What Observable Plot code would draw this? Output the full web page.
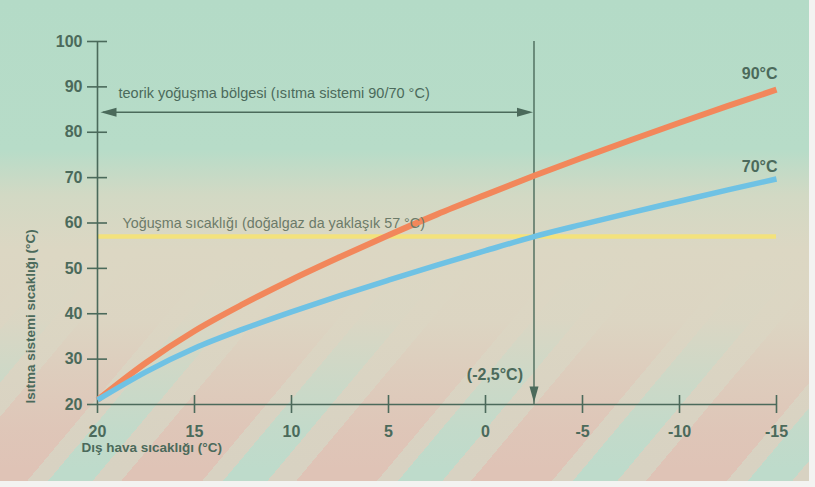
<!DOCTYPE html>
<html>
<head>
<meta charset="utf-8">
<script src="https://cdn.jsdelivr.net/npm/d3@7"></script>
<script src="https://cdn.jsdelivr.net/npm/@observablehq/plot@0.6"></script>
<style>
  html, body { margin: 0; padding: 0; background: #f3f3f1; }
  #chart { width: 815px; height: 487px; }
  svg { display: block; }
</style>
</head>
<body>
<div id="chart"></div>
<script>
// ---- data ----
const outdoorTemps = [20, 17.5, 15, 12.5, 10, 7.5, 5, 2.5, 0, -2.5, -5, -7.5, -10, -12.5, -15];
const flow90 = [21, 29.2, 36.2, 42.1, 47.5, 52.5, 57.3, 61.9, 66.2, 70.4, 74.4, 78.3, 82.1, 85.8, 89.4];
const flow70 = [21, 27.2, 32.4, 36.6, 40.4, 44.0, 47.4, 50.7, 53.9, 57.0, 59.7, 62.3, 64.8, 67.3, 69.7];
const xTicks = [20, 15, 10, 5, 0, -5, -10, -15];
const xTickLabels = ["20", "15", "10", "5", "0", "-5", "-10", "-15"];
const yTicks = [20, 30, 40, 50, 60, 70, 80, 90, 100];
const yTickLabels = ["20", "30", "40", "50", "60", "70", "80", "90", "100"];
const condensationTemp = 57;
const designTemp = -2.5;
const regionArrowLevel = 84.4;
const seriesLabels = ["90°C", "70°C"];
const xTitle = "Dış hava sıcaklığı (°C)";
const yTitle = "Isıtma sistemi sıcaklığı (°C)";
const regionLabel = "teorik yoğuşma bölgesi (ısıtma sistemi 90/70 °C)";
const condensationLabel = "Yoğuşma sıcaklığı (doğalgaz da yaklaşık 57 °C)";
const designLabel = "(-2,5°C)";

// ---- tables ----
const s90 = outdoorTemps.map((t, i) => ({t, v: flow90[i]}));
const s70 = outdoorTemps.map((t, i) => ({t, v: flow70[i]}));
const xTickData = xTicks.map((t, i) => ({t, label: xTickLabels[i]}));
const yTickData = yTicks.map((v, i) => ({v, label: yTickLabels[i]}));
const last = outdoorTemps.length - 1;

const ink = "#4b6a5b";
const fontFam = "'Liberation Sans', Arial, Helvetica, sans-serif";

// narrow filled arrowhead, tip at origin, body towards +y
const arrowHead = {
  draw(context) {
    context.moveTo(0, 0);
    context.lineTo(-4.5, 16);
    context.lineTo(4.5, 16);
    context.closePath();
  }
};

const chart = Plot.plot({
  width: 815,
  height: 487,
  marginLeft: 97,
  marginRight: 39,
  marginTop: 41,
  marginBottom: 83,
  x: {domain: [20, -15], axis: null},
  y: {domain: [20, 100], axis: null},
  style: {fontFamily: fontFam, background: "transparent", overflow: "visible"},
  marks: [
    // condensation line
    Plot.ruleY([condensationTemp], {x1: xTicks[0], x2: xTicks[xTicks.length - 1], stroke: "#f3e27c", strokeWidth: 4.5}),
    // axes lines
    Plot.ruleX([xTicks[0]], {y1: yTicks[0], y2: yTicks[yTicks.length - 1], stroke: ink, strokeWidth: 1.6}),
    Plot.ruleY([yTicks[0]], {x1: xTicks[0], x2: xTicks[xTicks.length - 1], stroke: ink, strokeWidth: 1.6}),
    // ticks crossing axes
    Plot.ruleY(yTicks.slice(1), {x1: xTicks[0], x2: xTicks[0], insetLeft: -10, insetRight: -10, stroke: ink, strokeWidth: 1.6}),
    Plot.ruleX(xTicks.slice(1), {y1: yTicks[0], y2: yTicks[0], insetTop: -9, insetBottom: -9, stroke: ink, strokeWidth: 1.6}),
    Plot.ruleX([xTicks[0]], {y1: yTicks[0], y2: yTicks[0], insetTop: 0, insetBottom: -9, stroke: ink, strokeWidth: 1.6}),
    Plot.ruleY([yTicks[0]], {x1: xTicks[0], x2: xTicks[0], insetLeft: -10, insetRight: 0, stroke: ink, strokeWidth: 1.6}),
    // tick labels
    Plot.text(yTickData, {x: () => xTicks[0], y: "v", text: "label", dx: -15, textAnchor: "end", fontSize: 16, fontWeight: "bold", fill: ink}),
    Plot.text(xTickData, {x: "t", y: () => yTicks[0], text: "label", dy: 27, fontSize: 16, fontWeight: "bold", fill: ink}),
    // axis titles
    Plot.text([xTitle], {frameAnchor: "bottom-left", dx: -16, dy: 47, textAnchor: "start", fontSize: 13.5, fontWeight: "bold", fill: ink}),
    Plot.text([yTitle], {frameAnchor: "bottom-left", dx: -63, dy: -1, rotate: -90, textAnchor: "start", fontSize: 13.5, fontWeight: "bold", fill: ink}),
    // design temperature vertical arrow
    Plot.ruleX([designTemp], {y1: yTicks[yTicks.length - 1], y2: yTicks[0], stroke: ink, strokeWidth: 1.4}),
    Plot.dot([designTemp], {x: d => d, y: () => yTicks[0], dy: -2, symbol: arrowHead, rotate: 180, fill: ink, stroke: "none"}),
    // region double arrow
    Plot.ruleY([regionArrowLevel], {x1: xTicks[0], x2: designTemp, insetLeft: 6, insetRight: 4, stroke: ink, strokeWidth: 1.6}),
    Plot.dot([regionArrowLevel], {x: () => xTicks[0], y: d => d, dx: 3, symbol: arrowHead, rotate: -90, fill: ink, stroke: "none"}),
    Plot.dot([regionArrowLevel], {x: () => designTemp, y: d => d, dx: -1, symbol: arrowHead, rotate: 90, fill: ink, stroke: "none"}),
    // curves
    Plot.line(s90, {x: "t", y: "v", stroke: "#f2875b", strokeWidth: 6, curve: "monotone-x", strokeLinecap: "butt"}),
    Plot.line(s70, {x: "t", y: "v", stroke: "#6fc2e4", strokeWidth: 5.5, curve: "monotone-x", strokeLinecap: "butt"}),
    // annotations
    Plot.text([regionLabel], {x: () => xTicks[0], y: () => regionArrowLevel, dx: 21, dy: -19, textAnchor: "start", fontSize: 14.5, fill: ink}),
    Plot.text([condensationLabel], {x: () => xTicks[0], y: () => condensationTemp, dx: 25, dy: -13, textAnchor: "start", fontSize: 14.3, fill: "#6c7b69"}),
    Plot.text([designLabel], {x: () => designTemp, y: () => yTicks[0], dx: -11, dy: -30, textAnchor: "end", fontSize: 16, fontWeight: "bold", fill: ink}),
    Plot.text([seriesLabels[0]], {x: () => outdoorTemps[last], y: () => flow90[last], dy: -16, dx: 1, textAnchor: "end", fontSize: 16, fontWeight: "bold", fill: ink}),
    Plot.text([seriesLabels[1]], {x: () => outdoorTemps[last], y: () => flow70[last], dy: -12, dx: 1, textAnchor: "end", fontSize: 16, fontWeight: "bold", fill: ink})
  ]
});

chart.style.background = [
  "linear-gradient(to bottom, #b4dbc7 0px, #b7dcc8 150px, #d2d9c4 195px, #dcd7c3 250px, rgba(220,214,195,0.95) 320px, rgba(220,214,195,0.55) 370px, rgba(220,214,195,0.15) 430px, rgba(220,214,195,0) 470px)",
  "repeating-linear-gradient(130deg, #dfc3b6 0px, #dfc3b6 62px, #d8d2c2 62px, #d8d2c2 78px, #bedbcb 78px, #bedbcb 112px, #d8d2c2 112px, #d8d2c2 134px)"
].join(",");
chart.style.backgroundSize = "809px 481px";
chart.style.backgroundRepeat = "no-repeat";
document.getElementById("chart").appendChild(chart);
</script>
</body>
</html>
